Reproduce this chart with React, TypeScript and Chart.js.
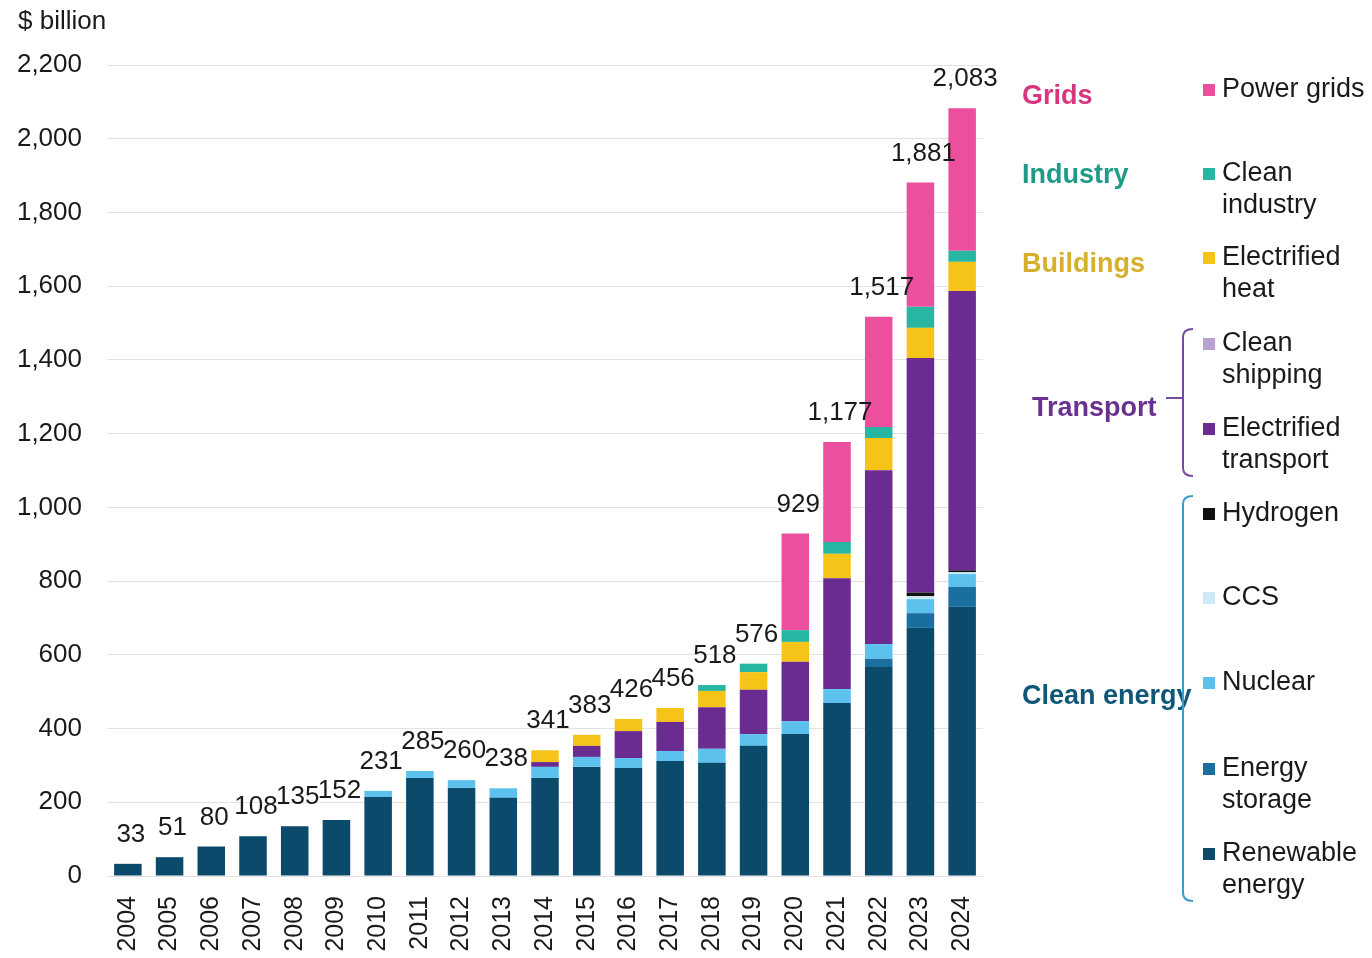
import React, { useEffect, useRef } from "react";
import { Chart, registerables } from "chart.js";

Chart.register(...registerables);

const years = [
  "2004", "2005", "2006", "2007", "2008", "2009", "2010", "2011", "2012", "2013",
  "2014", "2015", "2016", "2017", "2018", "2019", "2020", "2021", "2022", "2023", "2024",
];

const renewableEnergy = [33, 51, 80, 108, 135, 152, 214, 266, 239, 212, 266, 296, 293, 312, 307, 353, 385, 469, 567, 673, 730];
const energyStorage = [0, 0, 0, 0, 0, 0, 0, 0, 0, 0, 0, 0, 0, 0, 0, 0, 0, 0, 22, 40, 54];
const nuclear = [0, 0, 0, 0, 0, 0, 17, 19, 21, 26, 30, 27, 27, 27, 38, 32, 35, 38, 40, 38, 35];
const ccs = [0, 0, 0, 0, 0, 0, 0, 0, 0, 0, 0, 0, 0, 0, 0, 0, 0, 0, 0, 8, 5];
const hydrogen = [0, 0, 0, 0, 0, 0, 0, 0, 0, 0, 0, 0, 0, 0, 0, 0, 0, 0, 0, 10, 5];
const cleanShipping = [0, 0, 0, 0, 0, 0, 0, 0, 0, 0, 0, 0, 0, 0, 0, 0, 0, 0, 0, 0, 0];
const electrifiedTransport = [0, 0, 0, 0, 0, 0, 0, 0, 0, 0, 13, 30, 73, 79, 113, 120, 161, 301, 472, 636, 758];
const electrifiedHeat = [0, 0, 0, 0, 0, 0, 0, 0, 0, 0, 32, 30, 33, 38, 44, 48, 54, 66, 87, 82, 79];
const cleanIndustry = [0, 0, 0, 0, 0, 0, 0, 0, 0, 0, 0, 0, 0, 0, 16, 23, 32, 32, 30, 57, 30];
const powerGrids = [0, 0, 0, 0, 0, 0, 0, 0, 0, 0, 0, 0, 0, 0, 0, 0, 262, 271, 299, 337, 387];

const totalLabels = ["33", "51", "80", "108", "135", "152", "231", "285", "260", "238", "341", "383", "426", "456", "518", "576", "929", "1,177", "1,517", "1,881", "2,083"];

const yMin = 0;
const yMax = 2200;
const yStep = 200;

const FONT = "'Liberation Sans', Arial, Helvetica, sans-serif";

const seriesDefs = [
  { label: "Renewable energy", data: renewableEnergy, color: "#0b4a6b" },
  { label: "Energy storage", data: energyStorage, color: "#1b6f9f" },
  { label: "Nuclear", data: nuclear, color: "#5cc1ec" },
  { label: "CCS", data: ccs, color: "#cde9f5" },
  { label: "Hydrogen", data: hydrogen, color: "#111111" },
  { label: "Clean shipping", data: cleanShipping, color: "#b9a2d2" },
  { label: "Electrified transport", data: electrifiedTransport, color: "#6a2c91" },
  { label: "Electrified heat", data: electrifiedHeat, color: "#f6c418" },
  { label: "Clean industry", data: cleanIndustry, color: "#27b6a1" },
  { label: "Power grids", data: powerGrids, color: "#ec4f9e" },
];

const groupLabels = [
  { text: "Grids", x: 1022, y: 97, color: "#d8357f" },
  { text: "Industry", x: 1022, y: 176, color: "#1f9b87" },
  { text: "Buildings", x: 1022, y: 265, color: "#d6b02a" },
  { text: "Transport", x: 1032, y: 409, color: "#6b3191" },
  { text: "Clean energy", x: 1022, y: 697, color: "#0f5777" },
];

const legendItems = [
  { lines: ["Power grids"], y: 90, color: "#ec4f9e" },
  { lines: ["Clean", "industry"], y: 174, color: "#27b6a1" },
  { lines: ["Electrified", "heat"], y: 258, color: "#f6c418" },
  { lines: ["Clean", "shipping"], y: 344, color: "#b9a2d2" },
  { lines: ["Electrified", "transport"], y: 429, color: "#6a2c91" },
  { lines: ["Hydrogen"], y: 514, color: "#111111" },
  { lines: ["CCS"], y: 598, color: "#cde9f5" },
  { lines: ["Nuclear"], y: 683, color: "#5cc1ec" },
  { lines: ["Energy", "storage"], y: 769, color: "#1b6f9f" },
  { lines: ["Renewable", "energy"], y: 854, color: "#0b4a6b" },
];

const totalsPlugin = {
  id: "totalsPlugin",
  afterDatasetsDraw(chart: any) {
    const ctx = chart.ctx;
    const xs = chart.scales.x;
    const ys = chart.scales.y;
    ctx.save();
    ctx.font = `26px ${FONT}`;
    ctx.fillStyle = "#1a1a1a";
    ctx.textAlign = "center";
    ctx.textBaseline = "middle";
    years.forEach((_, i) => {
      let sum = 0;
      seriesDefs.forEach((s) => (sum += s.data[i]));
      const x = xs.getPixelForValue(i) + 3;
      const y = ys.getPixelForValue(sum) - 29;
      ctx.fillText(totalLabels[i], x, y);
    });
    ctx.restore();
  },
};

const sidePlugin = {
  id: "sidePlugin",
  afterDraw(chart: any) {
    const ctx = chart.ctx;
    ctx.save();
    ctx.font = `26px ${FONT}`;
    ctx.fillStyle = "#1a1a1a";
    ctx.textAlign = "left";
    ctx.textBaseline = "middle";
    ctx.fillText("$ billion", 18, 22);

    ctx.font = `bold 27px ${FONT}`;
    groupLabels.forEach((g) => {
      ctx.fillStyle = g.color;
      ctx.fillText(g.text, g.x, g.y);
    });

    const drawBracket = (top: number, bottom: number, mid: number | null, color: string) => {
      ctx.strokeStyle = color;
      ctx.lineWidth = 2;
      ctx.beginPath();
      ctx.moveTo(1193, top);
      ctx.quadraticCurveTo(1183, top, 1183, top + 8);
      ctx.lineTo(1183, bottom - 8);
      ctx.quadraticCurveTo(1183, bottom, 1193, bottom);
      ctx.stroke();
      if (mid !== null) {
        ctx.beginPath();
        ctx.moveTo(1183, mid);
        ctx.lineTo(1166, mid);
        ctx.stroke();
      }
    };
    drawBracket(329, 476, 398, "#7a4a9f");
    drawBracket(496, 901, null, "#3a9ccb");

    ctx.font = `27px ${FONT}`;
    legendItems.forEach((it) => {
      ctx.fillStyle = it.color;
      ctx.fillRect(1203, it.y - 6, 12, 12);
      ctx.fillStyle = "#1a1a1a";
      it.lines.forEach((ln, k) => {
        ctx.fillText(ln, 1222, it.y + k * 32);
      });
    });
    ctx.restore();
  },
};

export default function App() {
  const ref = useRef<HTMLCanvasElement>(null);
  useEffect(() => {
    if (!ref.current) return;
    const chart = new Chart(ref.current, {
      type: "bar",
      data: {
        labels: years,
        datasets: seriesDefs.map((s) => ({
          label: s.label,
          data: s.data,
          backgroundColor: s.color,
          borderWidth: 0,
          barPercentage: 0.66,
          categoryPercentage: 1,
          stack: "total",
        })),
      },
      options: {
        responsive: false,
        animation: false,
        devicePixelRatio: 1,
        layout: { padding: { left: 0, right: 389, top: 65, bottom: 0 } },
        plugins: {
          legend: { display: false },
          title: { display: false },
          tooltip: { enabled: false },
        },
        scales: {
          x: {
            stacked: true,
            grid: { display: false, drawTicks: false },
            border: { display: false },
            ticks: {
              minRotation: 90,
              maxRotation: 90,
              padding: 20,
              color: "#1a1a1a",
              font: { family: FONT, size: 25 },
              autoSkip: false,
            },
            afterFit: (scale: any) => {
              scale.height = 82;
            },
          },
          y: {
            stacked: true,
            min: yMin,
            max: yMax,
            grid: { color: "#e2e2e2", lineWidth: 1, drawTicks: false },
            border: { display: false },
            ticks: {
              stepSize: yStep,
              padding: 25,
              color: "#1a1a1a",
              font: { family: FONT, size: 26 },
              callback: (v: any) => Number(v).toLocaleString("en-US"),
            },
            afterFit: (scale: any) => {
              scale.width = 107;
            },
          },
        },
      },
      plugins: [totalsPlugin, sidePlugin],
    });
    return () => chart.destroy();
  }, []);
  return (
    <div style={{ position: "fixed", left: 0, top: 0, width: 1372, height: 958, background: "#ffffff" }}>
      <canvas ref={ref} width={1372} height={958} style={{ display: "block" }} />
    </div>
  );
}
